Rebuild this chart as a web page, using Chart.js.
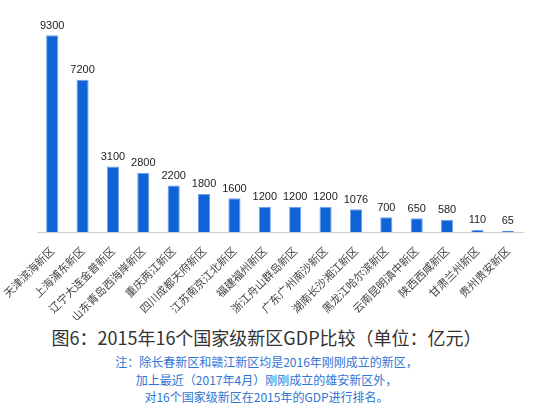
<!DOCTYPE html>
<html>
<head>
<meta charset="utf-8">
<script src="https://cdn.jsdelivr.net/npm/chart.js@4/dist/chart.umd.min.js"></script>
<style>
  html, body { margin:0; padding:0; background:#fff; }
  body { width:533px; height:409px; overflow:hidden; font-family:"Noto Sans CJK SC", "Noto Sans", sans-serif; }
  .chart-box { position:relative; width:533px; height:320px; }
  .title { position:absolute; left:0; top:325px; width:533px; text-align:center; font-size:18px; color:#333; line-height:24px; }
  .note { position:absolute; left:0; top:353px; width:533px; text-align:center; font-size:12px; color:#2d76d6; line-height:17.5px; }
</style>
</head>
<body>
<div class="chart-box"><canvas id="gdp"></canvas></div>
<div class="title">图6：2015年16个国家级新区GDP比较（单位：亿元）</div>
<div class="note">注：除长春新区和赣江新区均是2016年刚刚成立的新区，<br>加上最近（2017年4月）刚刚成立的雄安新区外，<br>对16个国家级新区在2015年的GDP进行排名。</div>

<script>
// 各新区及 2015 年 GDP（亿元）
const districts = [
  '天津滨海新区', '上海浦东新区', '辽宁大连金普新区', '山东青岛西海岸新区',
  '重庆两江新区', '四川成都天府新区', '江苏南京江北新区', '福建福州新区',
  '浙江舟山群岛新区', '广东广州南沙新区', '湖南长沙湘江新区', '黑龙江哈尔滨新区',
  '云南昆明滇中新区', '陕西西咸新区', '甘肃兰州新区', '贵州贵安新区'
];
const gdp = [9300, 7200, 3100, 2800, 2200, 1800, 1600, 1200, 1200, 1200, 1076, 700, 650, 580, 110, 65];

// 柱顶数值
const valueLabels = {
  id: 'valueLabels',
  afterDatasetsDraw(chart) {
    const { ctx } = chart;
    const meta = chart.getDatasetMeta(0);
    ctx.save();
    ctx.font = '11px "Liberation Sans", "DejaVu Sans", sans-serif';
    ctx.fillStyle = '#222';
    ctx.textAlign = 'center';
    ctx.textBaseline = 'bottom';
    meta.data.forEach((bar, i) => {
      ctx.fillText(String(gdp[i]), bar.x, bar.y - 4);
    });
    ctx.restore();
  }
};

new Chart(document.getElementById('gdp'), {
  type: 'bar',
  data: {
    labels: districts,
    datasets: [{
      data: gdp,
      backgroundColor: '#0f63d6',
      borderColor: '#6fa3ea',
      borderWidth: { left: 1, right: 1, top: 1, bottom: 0 },
      categoryPercentage: 1,
      barPercentage: 0.4,
    }],
  },
  options: {
    responsive: true, maintainAspectRatio: false,
    animation: false,
    layout: { padding: { left: 37, right: 10, top: 10, bottom: 0 } },
    plugins: { legend: { display: false }, tooltip: { enabled: false } },
    scales: {
      x: {
        grid: { display: false },
        border: { display: true, color: '#cfcfcf', width: 1 },
        ticks: {
          color: '#444',
          font: { size: 11, family: '"Noto Sans CJK SC", sans-serif' },
          minRotation: 45, maxRotation: 45,
          autoSkip: false, padding: 4,
        },
        afterFit(scale) { scale.height = 88; },
      },
      y: { display: false, min: 0, max: 10500 },
    },
  },
  plugins: [valueLabels],
});
</script>
</body>
</html>
